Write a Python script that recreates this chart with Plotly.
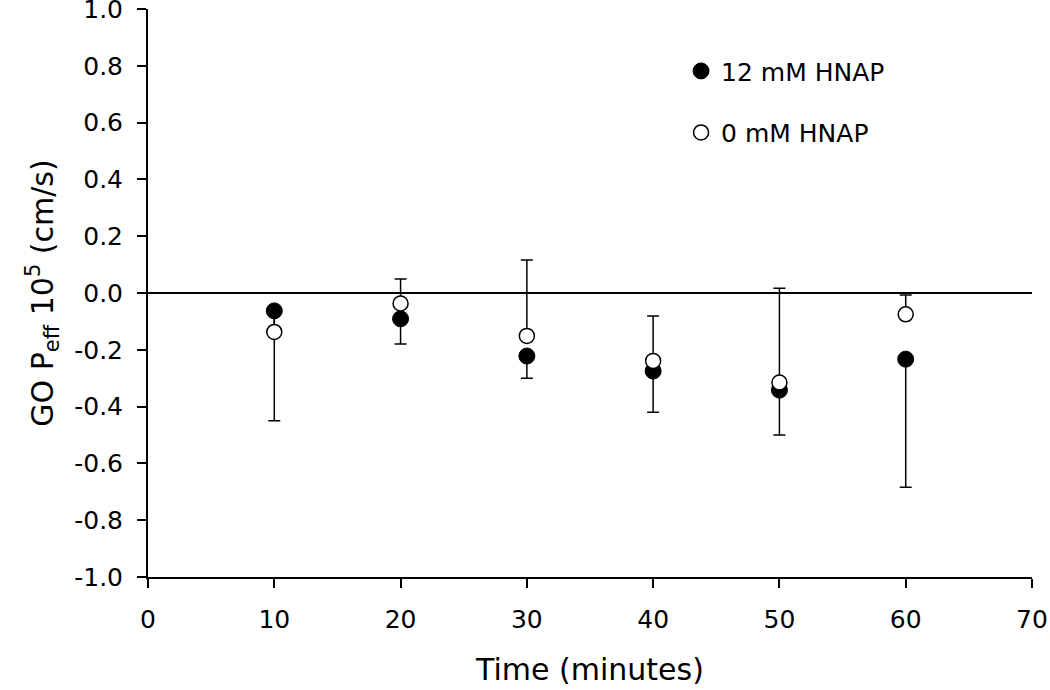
import plotly.graph_objects as go

time_min = [10, 20, 30, 40, 50, 60]
peff_12mM = [-0.063, -0.091, -0.222, -0.275, -0.342, -0.233]
err_12mM_minus = [0.387, 0.089, 0.078, 0.145, 0.158, 0.451]
peff_0mM = [-0.137, -0.037, -0.151, -0.239, -0.315, -0.075]
err_0mM_plus = [0.06, 0.086, 0.267, 0.158, 0.332, 0.068]

x_ticks = [0, 10, 20, 30, 40, 50, 60, 70]
y_ticks = [-1.0, -0.8, -0.6, -0.4, -0.2, 0.0, 0.2, 0.4, 0.6, 0.8, 1.0]

FONT = "DejaVu Sans"

fig = go.Figure()
fig.add_trace(go.Scatter(
    x=time_min, y=peff_12mM, mode="markers", name="12 mM HNAP",
    legendgroup="a",
    marker=dict(symbol="circle", size=16, color="black", line=dict(color="black", width=1)),
    error_y=dict(type="data", symmetric=False, array=[0]*len(time_min),
                 arrayminus=err_12mM_minus, color="black", thickness=1.5, width=6),
))
fig.add_trace(go.Scatter(
    x=time_min, y=peff_0mM, mode="markers", name="0 mM HNAP",
    legendgroup="b",
    marker=dict(symbol="circle", size=15, color="white", line=dict(color="black", width=1.5)),
    error_y=dict(type="data", symmetric=False, array=err_0mM_plus,
                 arrayminus=[0]*len(time_min), color="black", thickness=1.5, width=6),
))

fig.update_layout(
    width=1050, height=690,
    margin=dict(l=148, r=18, t=9, b=113),
    paper_bgcolor="white", plot_bgcolor="white",
    font=dict(family=FONT, size=25, color="black"),
    showlegend=True,
    legend=dict(x=0.603, y=0.931, xanchor="left", yanchor="top",
                font=dict(family=FONT, size=25, color="black"),
                bgcolor="rgba(0,0,0,0)", tracegroupgap=26, traceorder="grouped"),
    xaxis=dict(range=[0, 70], tickvals=x_ticks, ticktext=[str(v) for v in x_ticks],
               automargin=False, ticklabeloverflow="allow",
               showgrid=False, zeroline=False, showline=True, linecolor="black", linewidth=2,
               ticks="outside", ticklen=9, tickwidth=2, tickcolor="black",
               ticklabelstandoff=10,
               title=dict(text="Time (minutes)", font=dict(size=30), standoff=26)),
    yaxis=dict(range=[-1.0, 1.0], tickvals=y_ticks, ticktext=[f"{v:.1f}" for v in y_ticks],
               automargin=False, ticklabeloverflow="allow",
               showgrid=False, zeroline=True, zerolinecolor="black", zerolinewidth=2,
               showline=True, linecolor="black", linewidth=2,
               ticks="outside", ticklen=9, tickwidth=2, tickcolor="black",
               ticklabelstandoff=9,
               title=dict(text="GO P<sub>eff</sub> 10<sup>5</sup> (cm/s)", font=dict(size=30), standoff=12)),
)

fig.write_html("out.html", config={"displayModeBar": False},
               post_script="document.body.style.margin='0';")
